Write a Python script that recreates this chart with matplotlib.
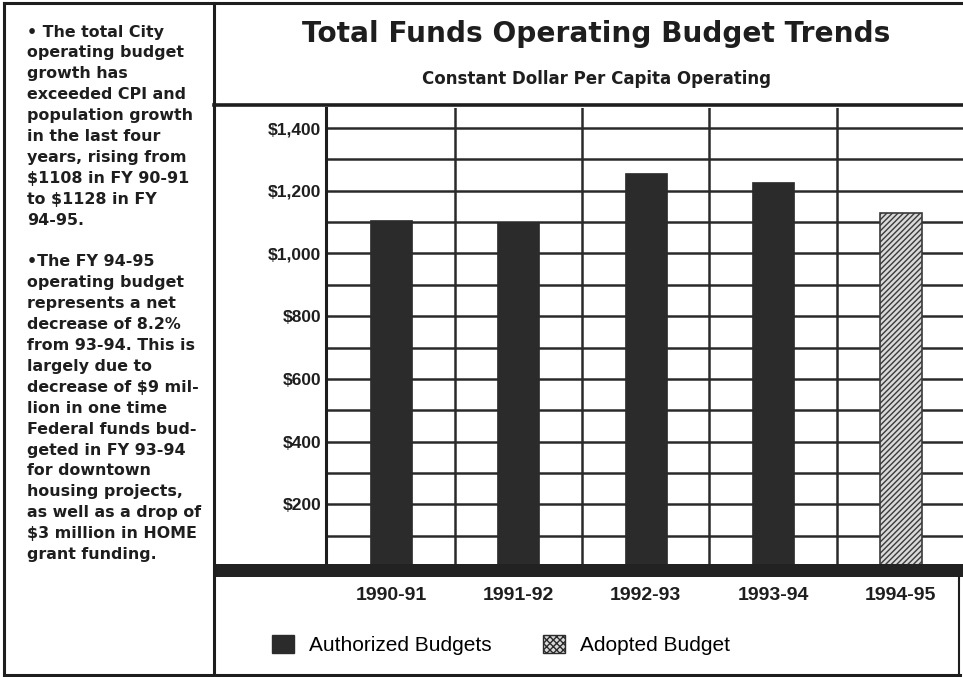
import matplotlib
matplotlib.use("Agg")
import matplotlib.pyplot as plt
from matplotlib.patches import Rectangle, Patch
from matplotlib.lines import Line2D

plt.rcParams['font.family'] = ['Liberation Sans', 'DejaVu Sans']

# ---- data ----
years = ["1990-91", "1991-92", "1992-93", "1993-94", "1994-95"]
authorized = [1108, 1100, 1257, 1229]       # constant-dollar per capita, FY 90-91 .. 93-94
adopted = [1128]                             # FY 94-95
ytick_values = [200, 400, 600, 800, 1000, 1200, 1400]
ytick_labels = ["$200", "$400", "$600", "$800", "$1,000", "$1,200", "$1,400"]

title = "Total Funds Operating Budget Trends"
subtitle = "Constant Dollar Per Capita Operating"
notes = [
    "\u2022 The total City",
    "operating budget",
    "growth has",
    "exceeded CPI and",
    "population growth",
    "in the last four",
    "years, rising from",
    "$1108 in FY 90-91",
    "to $1128 in FY",
    "94-95.",
    "",
    "\u2022The FY 94-95",
    "operating budget",
    "represents a net",
    "decrease of 8.2%",
    "from 93-94. This is",
    "largely due to",
    "decrease of $9 mil-",
    "lion in one time",
    "Federal funds bud-",
    "geted in FY 93-94",
    "for downtown",
    "housing projects,",
    "as well as a drop of",
    "$3 million in HOME",
    "grant funding.",
]

W, H = 963, 677
fig = plt.figure(figsize=(W / 100, H / 100), dpi=100)
fig.patch.set_facecolor("white")
renderer = fig.canvas.get_renderer()


def fx(x):
    return x / W


def fy(y):
    return 1 - y / H


def fit_width(txt, width_px):
    """Rescale a text's font size so that it spans width_px pixels."""
    w = txt.get_window_extent(renderer).width
    txt.set_fontsize(txt.get_fontsize() * width_px / w)
    return txt.get_fontsize()


INK = "#1e1e1e"
GRID = "#2a2a2a"
WIDE = ["DejaVu Sans"]

# ---- main plot area ----
ax = fig.add_axes([fx(326), fy(567), fx(963 - 326), (567 - 108) / H])
ax.set_xlim(-0.51, 4.49)
ax.set_ylim(0, 1464)

ax.set_yticks(ytick_values)
ax.set_yticklabels(ytick_labels)
ax.set_yticks(range(100, 1500, 100), minor=True)
ax.set_xticks(range(len(years)))
ax.set_xticklabels(years)
ax.set_xticks([0.5, 1.5, 2.5, 3.5], minor=True)

ax.grid(True, which="both", axis="y", color=GRID, linewidth=1.8)
ax.grid(True, which="minor", axis="x", color=GRID, linewidth=1.8)
ax.set_axisbelow(True)
ax.tick_params(which="both", length=0)
ax.tick_params(axis="y", pad=3.5, labelsize=12.5)
ax.tick_params(axis="x", pad=14.5, labelsize=14)
for lab in ax.get_yticklabels() + ax.get_xticklabels():
    lab.set_fontweight("bold")
    lab.set_color(INK)

for side in ("top", "right", "bottom"):
    ax.spines[side].set_visible(False)
ax.spines["left"].set_linewidth(2.2)
ax.spines["left"].set_color(INK)

bar_w = 0.33
ax.bar(range(len(authorized)), authorized, width=bar_w, color="#2b2b2b",
       edgecolor="#2b2b2b", linewidth=0.5, zorder=3)
ax.bar([len(authorized)], adopted, width=bar_w, color="#d9d9d9",
       edgecolor="#3a3a3a", linewidth=1.2, hatch="//////", zorder=3)

# ---- frame, separators, base band ----
def hline(y, x0, x1, lw):
    fig.add_artist(Line2D([fx(x0), fx(x1)], [fy(y), fy(y)], color=INK,
                          linewidth=lw, transform=fig.transFigure))


def vline(x, y0, y1, lw):
    fig.add_artist(Line2D([fx(x), fx(x)], [fy(y0), fy(y1)], color=INK,
                          linewidth=lw, transform=fig.transFigure))


hline(3, 4, 963, 2.2)        # top border
hline(675, 4, 960, 2.2)      # bottom border
vline(4, 3, 675, 2.2)        # left border
vline(214, 3, 675, 2.2)      # notes panel divider
vline(959, 577, 675, 1.5)    # right border below chart
hline(105, 214, 963, 2.6)    # title separator

fig.add_artist(Rectangle((fx(214), fy(577)), fx(963 - 214), (577 - 564) / H,
                         transform=fig.transFigure, facecolor="#222222",
                         edgecolor="none"))

# ---- titles ----
t = fig.text(fx(596), fy(34), title, ha="center", va="center", fontsize=19,
             fontweight="bold", color=INK, family=WIDE)
fit_width(t, 588)
s = fig.text(fx(596), fy(79), subtitle, ha="center", va="center", fontsize=10.5,
             fontweight="bold", color=INK, family=WIDE)
fit_width(s, 353)

# ---- notes panel ----
probe = fig.text(0, 0, "population growth", fontsize=11, fontweight="bold",
                 family=WIDE)
note_size = fit_width(probe, 165)
probe.remove()

y0, pitch = 32, 20.9
for i, line in enumerate(notes):
    if line:
        fig.text(fx(27), fy(y0 + i * pitch), line, ha="left", va="center",
                 fontsize=note_size, fontweight="bold", color=INK, family=WIDE)

# ---- legend ----
handles = [
    Patch(facecolor="#2b2b2b", edgecolor="#2b2b2b"),
    Patch(facecolor="#d9d9d9", edgecolor="#2b2b2b", hatch="xxxxx"),
]
fig.legend(handles, ["Authorized Budgets", "Adopted Budget"], loc="center left",
           bbox_to_anchor=(fx(253), fy(645)), ncol=2, frameon=False,
           handlelength=1.08, handleheight=0.92, handletextpad=0.72,
           columnspacing=2.45, prop={"size": 15})

fig.savefig("out.png", dpi=100)
